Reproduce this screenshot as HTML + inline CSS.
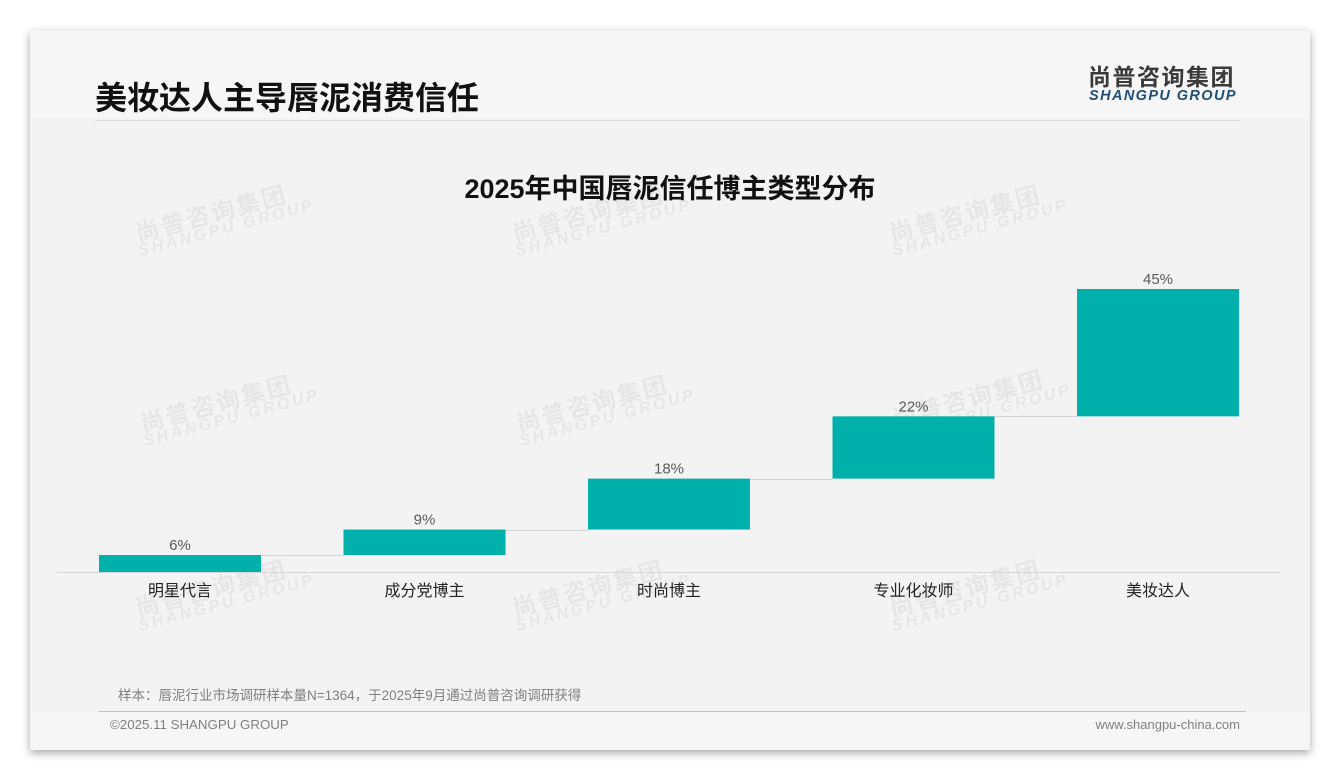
<!DOCTYPE html>
<html><head><meta charset="utf-8">
<style>
html,body{margin:0;padding:0;width:1340px;height:780px;background:#fff;overflow:hidden;font-family:"Liberation Sans","Noto Sans CJK SC",sans-serif;}
#card{position:absolute;left:30px;top:30px;width:1280px;height:720px;background:#f6f6f6;box-shadow:0 3px 8px rgba(0,0,0,0.35);}
#inner{position:absolute;left:30px;top:118px;width:1280px;height:594px;background:#f3f3f3;}
.abs{position:absolute;}
.wm{position:absolute;transform:rotate(-15deg);color:rgba(0,0,0,0.05);font-weight:bold;text-align:center;line-height:1;white-space:nowrap;}
.wm .a{font-size:24px;letter-spacing:2px;font-family:"Noto Sans CJK SC",sans-serif;}
.wm .b{font-size:16px;letter-spacing:3px;font-style:italic;}
</style></head><body>
<div id="card"></div>
<div id="inner"></div>
<div class="abs" style="left:95px;top:76px;font-size:32px;font-weight:bold;color:#111;font-family:'Noto Sans CJK SC',sans-serif;line-height:40px;">美妆达人主导唇泥消费信任</div>
<div class="abs" style="left:95px;top:120px;width:1145px;height:1px;background:#dcdcdc;"></div>
<div class="abs" style="left:1088px;top:61px;font-size:23px;font-weight:bold;color:#3a3a3a;letter-spacing:1.5px;font-family:'Noto Sans CJK SC',sans-serif;line-height:28px;white-space:nowrap;">尚普咨询集团</div>
<div class="abs" style="left:1089px;top:87px;font-size:14.5px;font-weight:bold;font-style:italic;color:#1f4e79;letter-spacing:1.4px;line-height:18px;">SHANGPU GROUP</div>
<div class="abs" style="left:0;width:1340px;top:171px;text-align:center;font-size:27px;font-weight:bold;color:#111;line-height:36px;font-family:'Liberation Sans','Noto Sans CJK SC',sans-serif;">2025年中国唇泥信任博主类型分布</div>
<div id="wms"></div>
<svg class="abs" style="left:0;top:0" width="1340" height="780" id="chart"></svg>
<div class="abs" style="left:118px;top:687px;font-size:13.5px;color:#7f7f7f;line-height:18px;white-space:nowrap;font-family:'Liberation Sans','Noto Sans CJK SC',sans-serif;">样本：唇泥行业市场调研样本量N=1364，于2025年9月通过尚普咨询调研获得</div>
<div class="abs" style="left:99px;top:711px;width:1147px;height:1px;background:#b8c7d6;"></div>
<div class="abs" style="left:110px;top:716px;font-size:13.3px;color:#808080;line-height:18px;">©2025.11 SHANGPU GROUP</div>
<div class="abs" style="left:1040px;width:200px;text-align:right;top:716px;font-size:13px;color:#808080;line-height:18px;">www.shangpu-china.com</div>
<script>
const categories=["明星代言","成分党博主","时尚博主","专业化妆师","美妆达人"];
const values=[6,9,18,22,45];
const valueLabels=["6%","9%","18%","22%","45%"];

const svg=document.getElementById('chart');
const NS='http://www.w3.org/2000/svg';
const baseY=572, pxPer=2.83, x0=99, step=244.5, bw=162;
function y(v){return baseY-v*pxPer;}
function xb(i){return x0+i*step;}
function mk(t,a){const e=document.createElementNS(NS,t);for(const k in a)e.setAttribute(k,a[k]);svg.appendChild(e);return e;}
const axis=mk('line',{x1:57,x2:1280,y1:baseY+0.5,y2:baseY+0.5,stroke:'#d6d6d6','stroke-width':1});


let cum=0;
values.forEach((v,i)=>{
  const top=cum+v;
  const r=mk('rect',{x:xb(i),y:y(top),width:bw,height:y(cum)-y(top),fill:'#00b0aa'});
  
  
  if(i<values.length-1){
    const c=mk('line',{x1:xb(i)+bw,x2:xb(i+1),y1:Math.round(y(top))+0.5,y2:Math.round(y(top))+0.5,stroke:'#d6d6d6','stroke-width':1});
    
    
  }
  const t=mk('text',{x:xb(i)+bw/2,y:y(top)-5,'text-anchor':'middle','font-size':15,fill:'#595959','font-family':'Liberation Sans, sans-serif'});
  t.textContent=valueLabels[i];
  
  
  const c2=mk('text',{x:xb(i)+bw/2,y:596,'text-anchor':'middle','font-size':16,fill:'#222','font-family':'Liberation Sans, Noto Sans CJK SC, sans-serif'});
  c2.textContent=categories[i];
  
  
  cum=top;
});
const wmPos=[[213,225],[590,225],[967,225],[218,415],[594,415],[970,410],[213,600],[590,600],[967,600]];
const wms=document.getElementById('wms');
wmPos.forEach(p=>{
  const d=document.createElement('div');
  d.className='wm';
  d.style.left=(p[0]-80)+'px';d.style.top=(p[1]-25)+'px';d.style.width='160px';
  d.innerHTML='<div class="a">尚普咨询集团</div><div class="b">SHANGPU GROUP</div>';
  
  
  wms.appendChild(d);
});
</script>
</body></html>
